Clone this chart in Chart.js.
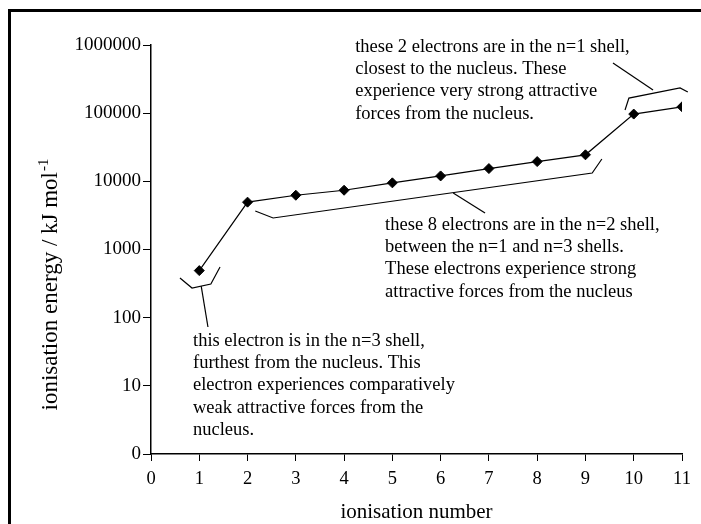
<!DOCTYPE html>
<html>
<head>
<meta charset="utf-8">
<script src="https://cdn.jsdelivr.net/npm/chart.js@4/dist/chart.umd.min.js"></script>
<style>
  body { margin: 0; background: #fff; }
  canvas { display: block; }
</style>
</head>
<body>
<canvas id="ieChart" width="701" height="524"></canvas>
<script>
// ionisation number and energy (kJ/mol)
var ionNumbers = [1, 2, 3, 4, 5, 6, 7, 8, 9, 10, 11];
var ionEnergies = [490, 4950, 6250, 7400, 9500, 12000, 15400, 19500, 24500, 97000, 124000];
var yTickValues = [1, 10, 100, 1000, 10000, 100000, 1000000];
var yTickLabels = ['0', '10', '100', '1000', '10000', '100000', '1000000'];

// bracket callouts, in data units [x, energy]
var brackets = [
  [[0.60, 382], [0.85, 272], [1.24, 312], [1.43, 553]],
  [[1.04, 291], [1.18, 73]],
  [[2.16, 3670], [2.53, 2900], [9.14, 13250], [9.34, 21250]],
  [[6.26, 6740], [6.92, 3430]],
  [[9.82, 111200], [9.90, 166700], [10.96, 234000], [11.12, 204000]],
  [[10.40, 218600], [9.57, 544000]]
];

var notes = [
  { x: 0.87, y: 45.5, lines: [
    'this electron is in the n=3 shell,',
    'furthest from the nucleus. This',
    'electron experiences comparatively',
    'weak attractive forces from the',
    'nucleus.'] },
  { x: 4.85, y: 2290, lines: [
    'these 8 electrons are in the n=2 shell,',
    'between the n=1 and n=3 shells.',
    'These electrons experience strong',
    'attractive forces from the nucleus'] },
  { x: 4.23, y: 934000, lines: [
    'these 2 electrons are in the n=1 shell,',
    'closest to the nucleus. These',
    'experience very strong attractive',
    'forces from the nucleus.'] }
];

var points = ionNumbers.map(function(n, i) { return { x: n, y: ionEnergies[i] }; });

var serif = '"Liberation Serif", "Times New Roman", serif';

var extras = {
  id: 'extras',
  afterDraw: function(chart) {
    var ctx = chart.ctx;
    var xs = chart.scales.x, ys = chart.scales.y;
    ctx.save();
    // outer frame
    ctx.fillStyle = '#000';
    ctx.fillRect(8, 9, 3, 515);
    ctx.fillRect(8, 9, 693, 3);

    // brackets
    ctx.strokeStyle = '#000';
    ctx.lineWidth = 1.2;
    brackets.forEach(function(b) {
      ctx.beginPath();
      b.forEach(function(p, i) {
        var px = xs.getPixelForValue(p[0]), py = ys.getPixelForValue(p[1]);
        if (i == 0) ctx.moveTo(px, py); else ctx.lineTo(px, py);
      });
      ctx.stroke();
    });

    // notes
    ctx.font = '18.5px ' + serif;
    ctx.textBaseline = 'middle';
    ctx.textAlign = 'left';
    notes.forEach(function(n) {
      var px = xs.getPixelForValue(n.x), py = ys.getPixelForValue(n.y);
      n.lines.forEach(function(t, i) {
        ctx.fillText(t, px, py + i * 22.3);
      });
    });

    // axis titles
    ctx.font = '21px ' + serif;
    ctx.textAlign = 'center';
    ctx.fillText('ionisation number', (chart.chartArea.left + chart.chartArea.right) / 2, 512);

    ctx.textBaseline = 'alphabetic';
    ctx.translate(57, 0);
    ctx.rotate(-Math.PI / 2);
    var main = 'ionisation energy / kJ mol';
    ctx.font = '23px ' + serif;
    var w = ctx.measureText(main).width;
    ctx.font = '15px ' + serif;
    var ws = ctx.measureText('-1').width;
    var start = -285 - (w + ws) / 2;
    ctx.textAlign = 'left';
    ctx.font = '23px ' + serif;
    ctx.fillText(main, start, 0);
    ctx.font = '15px ' + serif;
    ctx.fillText('-1', start + w + 1, -9);
    ctx.restore();
  }
};

var ctx = document.getElementById('ieChart').getContext('2d');
var chart = new Chart(ctx, {
  type: 'scatter',
  data: {
    datasets: [{
      data: points,
      showLine: true,
      borderColor: '#000',
      borderWidth: 1.2,
      backgroundColor: '#000',
      pointStyle: 'rectRot',
      pointRadius: 5,
      pointBorderWidth: 1,
      pointHoverRadius: 5
    }]
  },
  options: {
    responsive: false,
    animation: false,
    events: [],
    layout: { padding: { top: 45, right: 19, left: 0, bottom: 0 } },
    plugins: { legend: { display: false }, tooltip: { enabled: false } },
    scales: {
      x: {
        type: 'linear',
        min: 0,
        max: 11,
        afterFit: function(s) { s.height = 70; },
        grid: { drawOnChartArea: false, tickLength: 7, tickColor: '#000', tickWidth: 1 },
        border: { color: '#000', width: 1.5 },
        ticks: {
          stepSize: 1,
          padding: 7,
          color: '#000',
          font: { family: serif, size: 18.5 }
        }
      },
      y: {
        type: 'logarithmic',
        min: 1,
        max: 1000000,
        afterFit: function(s) { s.width = 151; },
        afterBuildTicks: function(s) {
          s.ticks = yTickValues.map(function(v) { return { value: v }; });
        },
        grid: { drawOnChartArea: false, tickLength: 8, tickColor: '#000', tickWidth: 1 },
        border: { color: '#000', width: 1.5 },
        ticks: {
          padding: 2,
          color: '#000',
          font: { family: serif, size: 19 },
          callback: function(v) {
            var i = yTickValues.indexOf(v);
            return i >= 0 ? yTickLabels[i] : '';
          }
        }
      }
    }
  },
  plugins: [extras]
});
</script>
</body>
</html>
